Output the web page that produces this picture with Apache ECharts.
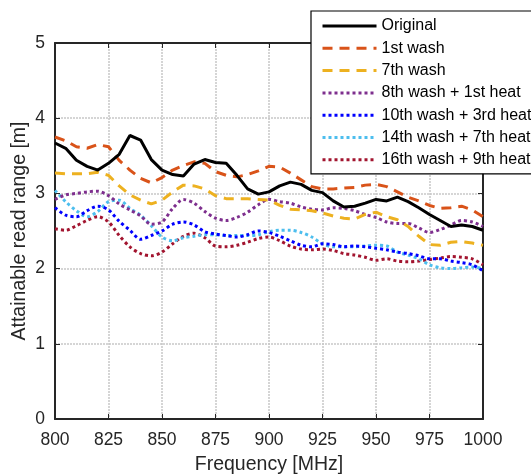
<!DOCTYPE html>
<html><head><meta charset="utf-8">
<script src="https://cdn.jsdelivr.net/npm/echarts@6/dist/echarts.min.js"></script>
<style>html,body{margin:0;padding:0;background:#fff}#c{width:531px;height:475px}</style>
</head><body><div id="c"></div>
<script>
const freq = [800,805,810,815,820,825,830,835,840,845,850,855,860,865,870,875,880,885,890,895,900,905,910,915,920,925,930,935,940,945,950,955,960,965,970,975,980,985,990,995,1000];
const xTicks = [800,825,850,875,900,925,950,975,1000];
const yTicks = [0,1,2,3,4,5];
const seriesNames = ['Original','1st wash','7th wash','8th wash + 1st heat','10th wash + 3rd heat','14th wash + 7th heat','16th wash + 9th heat'];
const original = [3.67,3.60,3.44,3.36,3.31,3.40,3.52,3.77,3.71,3.45,3.31,3.25,3.23,3.39,3.45,3.41,3.40,3.24,3.06,2.99,3.02,3.10,3.15,3.12,3.04,3.01,2.90,2.82,2.83,2.87,2.92,2.90,2.95,2.89,2.81,2.72,2.64,2.56,2.58,2.56,2.51];
const wash1 = [3.75,3.70,3.62,3.60,3.65,3.62,3.44,3.31,3.20,3.14,3.21,3.31,3.37,3.42,3.40,3.29,3.24,3.22,3.25,3.30,3.36,3.35,3.27,3.18,3.09,3.06,3.06,3.07,3.08,3.11,3.12,3.09,3.02,2.95,2.90,2.84,2.80,2.81,2.83,2.78,2.69];
const wash7 = [3.27,3.26,3.26,3.26,3.28,3.24,3.10,2.98,2.91,2.86,2.91,3.02,3.11,3.10,3.06,2.97,2.93,2.93,2.93,2.92,2.91,2.84,2.79,2.78,2.77,2.74,2.70,2.67,2.66,2.72,2.75,2.69,2.65,2.56,2.43,2.32,2.31,2.35,2.36,2.34,2.31];
const wash8heat1 = [2.92,2.98,3.00,3.02,3.03,2.97,2.86,2.78,2.70,2.59,2.62,2.80,2.92,2.87,2.76,2.67,2.64,2.68,2.75,2.85,2.92,2.89,2.87,2.82,2.79,2.78,2.81,2.80,2.77,2.72,2.68,2.62,2.60,2.60,2.54,2.48,2.52,2.58,2.64,2.62,2.56];
const wash10heat3 = [2.81,2.71,2.69,2.77,2.83,2.78,2.63,2.51,2.39,2.44,2.50,2.59,2.62,2.58,2.49,2.46,2.44,2.42,2.45,2.50,2.48,2.43,2.37,2.31,2.29,2.33,2.32,2.29,2.30,2.29,2.27,2.25,2.22,2.20,2.17,2.13,2.13,2.10,2.08,2.05,1.97];
const wash14heat7 = [3.04,2.89,2.77,2.69,2.76,2.89,2.91,2.80,2.71,2.57,2.42,2.37,2.41,2.43,2.45,2.45,2.44,2.44,2.44,2.45,2.49,2.51,2.51,2.48,2.42,2.33,2.29,2.29,2.29,2.30,2.31,2.30,2.22,2.18,2.13,2.05,2.01,2.00,2.01,2.02,2.00];
const wash16heat9 = [2.53,2.51,2.57,2.64,2.69,2.62,2.44,2.29,2.20,2.17,2.22,2.33,2.43,2.47,2.41,2.30,2.29,2.31,2.35,2.40,2.42,2.37,2.30,2.26,2.25,2.26,2.24,2.20,2.18,2.15,2.11,2.13,2.10,2.09,2.10,2.12,2.14,2.16,2.15,2.13,2.05];

const allValues = [original,wash1,wash7,wash8heat1,wash10heat3,wash14heat7,wash16heat9];
const styles = [
  {color:'#000000', type:'solid', width:3, smooth:false},
  {color:'#D95319', type:[10,7], width:3, smooth:false},
  {color:'#EDB120', type:[10,7], width:3, smooth:false},
  {color:'#7E2F8E', type:[3,3], width:3, smooth:0.3},
  {color:'#0000FF', type:[3,3], width:3, smooth:0.3},
  {color:'#4DBEEE', type:[3,3], width:3, smooth:0.3},
  {color:'#A2142F', type:[3,3], width:3, smooth:0.3}
];
const font = 'Liberation Sans, Arial, sans-serif';
const chart = echarts.init(document.getElementById('c'), null, {renderer:'canvas'});
const series = seriesNames.map((n,i)=>({
  name:n, type:'line', symbol:'none', smooth:styles[i].smooth,
  data: freq.map((f,j)=>[f, allValues[i][j]]),
  lineStyle:{color:styles[i].color, type:styles[i].type, width:styles[i].width, cap:'butt'},
  itemStyle:{color:styles[i].color, opacity:0},
  z: 10 - i, animation:false
}));
const xBase = {type:'value', min:xTicks[0], max:xTicks[xTicks.length-1], interval:25};
const yBase = {type:'value', min:yTicks[0], max:yTicks[yTicks.length-1], interval:1};
chart.setOption({
  animation:false,
  backgroundColor:'#ffffff',
  grid:{left:55, right:48, top:43, bottom:56, containLabel:false, outerBoundsMode:'none'},
  legend:{
    orient:'vertical', left:311, top:11, data:seriesNames,
    itemWidth:54, itemHeight:14, itemGap:6.3,
    padding:[7,3,6,10],
    backgroundColor:'#ffffff', borderColor:'#000', borderWidth:1.2, borderRadius:0,
    itemStyle:{opacity:0},
    lineStyle:{width:3},
    textStyle:{fontFamily:font, fontSize:16, color:'#000'}, z:20
  },
  xAxis:[
    Object.assign({}, xBase, {position:'bottom',
      name:'Frequency [MHz]', nameLocation:'middle', nameGap:36, nameMoveOverlap:false,
      nameTextStyle:{fontFamily:font, fontSize:19.5, color:'#262626'},
      axisLine:{show:true, onZero:false, lineStyle:{color:'#262626', width:2}},
      axisTick:{show:true, inside:true, length:5, lineStyle:{color:'#262626', width:1}},
      axisLabel:{fontFamily:font, fontSize:17.5, color:'#262626', margin:12, formatter:(v)=>String(v)},
      splitLine:{show:true, lineStyle:{color:'#c8c8c8', type:[2,1], width:1.5}}}),
    Object.assign({}, xBase, {position:'top',
      axisLine:{show:true, onZero:false, lineStyle:{color:'#262626', width:2}},
      axisTick:{show:true, inside:true, length:5, lineStyle:{color:'#262626', width:1}},
      axisLabel:{show:false}, splitLine:{show:false}})
  ],
  yAxis:[
    Object.assign({}, yBase, {position:'left',
      name:'Attainable read range [m]', nameLocation:'middle', nameGap:25, nameMoveOverlap:false,
      nameTextStyle:{fontFamily:font, fontSize:19.5, color:'#262626'},
      axisLine:{show:true, onZero:false, lineStyle:{color:'#262626', width:2}},
      axisTick:{show:true, inside:true, length:5, lineStyle:{color:'#262626', width:1}},
      axisLabel:{fontFamily:font, fontSize:17.5, color:'#262626', margin:10},
      splitLine:{show:true, lineStyle:{color:'#c8c8c8', type:[2,1], width:1.5}}}),
    Object.assign({}, yBase, {position:'right',
      axisLine:{show:true, onZero:false, lineStyle:{color:'#262626', width:2}},
      axisTick:{show:true, inside:true, length:5, lineStyle:{color:'#262626', width:1}},
      axisLabel:{show:false}, splitLine:{show:false}})
  ],
  series: series
});
</script></body></html>
